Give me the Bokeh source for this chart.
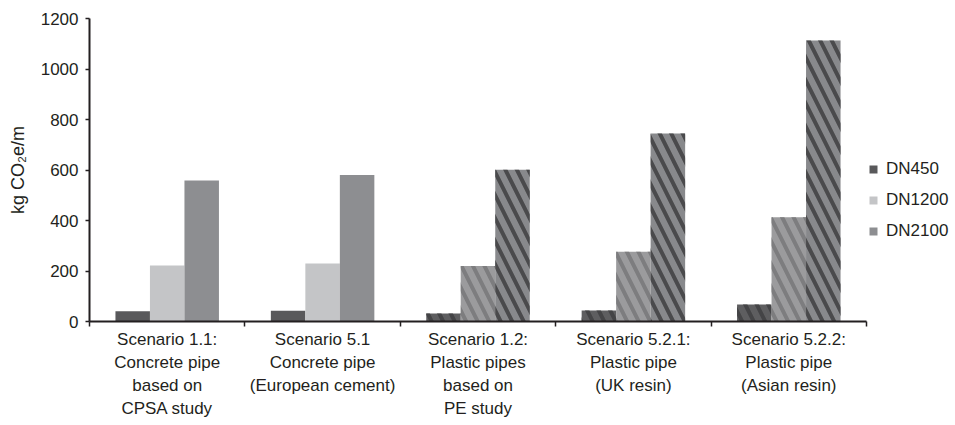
import numpy as np
from bokeh.plotting import figure
from bokeh.models import (ColumnDataSource, Range1d, FixedTicker, LinearAxis,
                          Legend, LegendItem)
from bokeh.embed import file_html
from bokeh.resources import INLINE

# Scenario labels (multi-line) and per-diameter emissions, kg CO2e per metre
scenarios = [
    "Scenario 1.1:\nConcrete pipe\nbased on\nCPSA study",
    "Scenario 5.1\nConcrete pipe\n(European cement)",
    "Scenario 1.2:\nPlastic pipes\nbased on\nPE study",
    "Scenario 5.2.1:\nPlastic pipe\n(UK resin)",
    "Scenario 5.2.2:\nPlastic pipe\n(Asian resin)",
]
is_plastic = [False, False, True, True, True]
series = ["DN450", "DN1200", "DN2100"]
dn450 = [41, 43, 32, 44, 67]
dn1200 = [222, 230, 220, 276, 413]
dn2100 = [558, 580, 601, 745, 1113]
y_ticks = [0, 200, 400, 600, 800, 1000, 1200]

values = {"DN450": dn450, "DN1200": dn1200, "DN2100": dn2100}
solid_colors = {"DN450": "#59595b", "DN1200": "#c4c5c7", "DN2100": "#8d8e91"}
hatch_base = {"DN450": "#5e5e60", "DN1200": "#9b9b9d", "DN2100": "#88898c"}
hatch_ink = {"DN450": "#444446", "DN1200": "#7d7d7f", "DN2100": "#4a4a4c"}

n = len(scenarios)
bar_w = 0.222
offsets = {"DN450": -bar_w, "DN1200": 0.0, "DN2100": bar_w}
centers = np.arange(n) + 0.5

p = figure(frame_width=777, frame_height=303,
           output_backend="svg", toolbar_location=None,
           x_range=Range1d(0, n), y_range=Range1d(0, 1200),
           x_axis_location=None, y_axis_location=None,
           min_border_left=89, min_border_right=0,
           min_border_top=18, min_border_bottom=104)
p.outline_line_color = None
p.grid.visible = False
p.background_fill_color = "white"
p.border_fill_color = "white"

font = "Liberation Sans"
ink = "#231f20"

legend_items = []
for s in series:
    vals = np.array(values[s])
    xs = centers + offsets[s]
    mask = np.array(is_plastic)
    src_c = ColumnDataSource(dict(x=xs[~mask], top=vals[~mask]))
    src_p = ColumnDataSource(dict(x=xs[mask], top=vals[mask]))
    r_c = p.vbar(x="x", top="top", bottom=0, width=bar_w, source=src_c,
                 fill_color=solid_colors[s], line_color=None)
    p.vbar(x="x", top="top", bottom=0, width=bar_w, source=src_p,
           fill_color=hatch_base[s], line_color=None,
           hatch_pattern="\\", hatch_color=hatch_ink[s],
           hatch_scale=23, hatch_weight=4)
    legend_items.append(LegendItem(label=s, renderers=[r_c]))

# y axis
yax = LinearAxis(ticker=FixedTicker(ticks=y_ticks, minor_ticks=[]))
yax.axis_label = "kg CO₂e/m"
yax.axis_label_text_font = font
yax.axis_label_text_font_style = "normal"
yax.axis_label_text_font_size = "18px"
yax.axis_label_text_color = ink
yax.axis_label_standoff = 10
yax.major_label_text_font = font
yax.major_label_text_font_size = "17px"
yax.major_label_text_color = ink
yax.major_label_standoff = 7
yax.major_tick_in = 0
yax.major_tick_out = 4
yax.major_tick_line_color = ink
yax.major_tick_line_width = 1.5
yax.minor_tick_line_color = None
yax.axis_line_color = ink
yax.axis_line_width = 2
p.add_layout(yax, "left")

# x axis: labels at category centres, tick marks at category boundaries
xax = LinearAxis(ticker=FixedTicker(ticks=list(centers),
                                    minor_ticks=list(range(n + 1))))
xax.major_label_overrides = {float(c): lab for c, lab in zip(centers, scenarios)}
xax.major_label_text_font = font
xax.major_label_text_font_size = "17px"
xax.major_label_text_color = ink
xax.major_label_text_line_height = 1.22
xax.major_label_standoff = 3
xax.major_tick_line_color = None
xax.major_tick_out = 0
xax.major_tick_in = 0
xax.minor_tick_in = 0
xax.minor_tick_out = 5
xax.minor_tick_line_color = ink
xax.minor_tick_line_width = 1.5
xax.axis_line_color = ink
xax.axis_line_width = 2
p.add_layout(xax, "below")

# legend in the right-hand panel, beside the frame
legend = Legend(items=legend_items, location=(2, 80),
                orientation="vertical",
                glyph_width=10, glyph_height=10, label_standoff=8,
                label_height=19, spacing=11, padding=0, margin=0,
                label_text_font=font, label_text_font_size="17px",
                label_text_color=ink, border_line_color=None,
                background_fill_alpha=0)
p.add_layout(legend, "right")
p.min_border_right = 89

open("out.html", "w").write(file_html(p, INLINE))
